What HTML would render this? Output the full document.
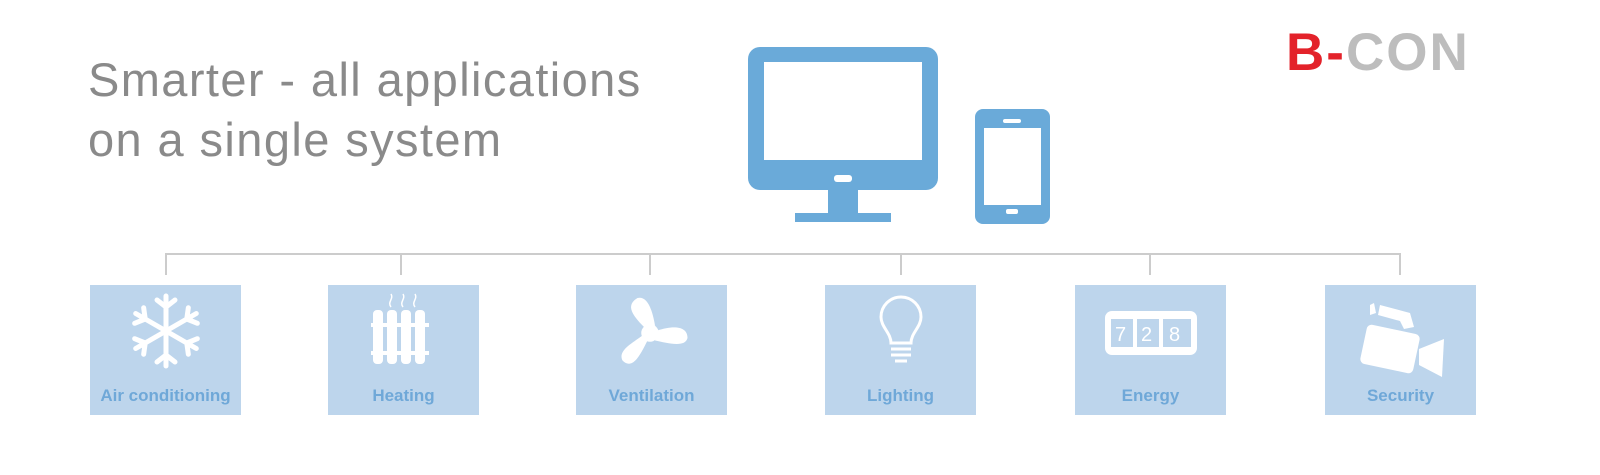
<!DOCTYPE html>
<html><head><style>
body{margin:0;width:1600px;height:475px;background:#fff;position:relative;overflow:hidden;font-family:"Liberation Sans",sans-serif}
.t{position:absolute;left:88px;color:#8a8a8a;font-size:47px;font-weight:300;letter-spacing:1.4px}
.box{position:absolute;top:285px;width:151px;height:130px;background:#bdd5ec}
.lbl{position:absolute;left:0;right:0;top:101px;text-align:center;color:#6fa8d8;font-weight:bold;font-size:17px}
.ic{position:absolute;left:0;top:0}
</style></head><body>
<div class="t" style="top:52px">Smarter - all applications</div>
<div class="t" style="top:112px">on a single system</div>
<div style="position:absolute;left:1286px;top:22px;font-size:53px;font-weight:bold;letter-spacing:2px;color:#bdbdbd"><span style="color:#e3222a">B-</span>CON</div>
<svg width="1600" height="475" style="position:absolute;left:0;top:0">
<rect x="748" y="47" width="190" height="143" rx="12" fill="#6aaad9"/>
<rect x="764" y="62" width="158" height="98" fill="#fff"/>
<rect x="834" y="175" width="18" height="7" rx="3" fill="#fff"/>
<rect x="828" y="189" width="30" height="25" fill="#6aaad9"/>
<rect x="795" y="213" width="96" height="9" fill="#6aaad9"/>
<rect x="975" y="109" width="75" height="115" rx="8" fill="#6aaad9"/>
<rect x="984" y="128" width="57" height="77" fill="#fff"/>
<rect x="1003" y="119" width="18" height="4" rx="2" fill="#fff"/>
<rect x="1006" y="209" width="12" height="5" rx="2" fill="#fff"/>
<g stroke="#ccc" stroke-width="2" fill="none">
<path d="M166 275V254H1400V275"/>
<path d="M401 254V275M650 254V275M901 254V275M1150 254V275"/>
</g>
</svg>
<div class="box" style="left:90px"><svg class="ic" width="151" height="100"><g stroke="#fff" stroke-width="5" stroke-linecap="round" fill="none" transform="translate(76,46)"><g id="a"><path d="M0-35V35M0-24L-9-31M0-24L9-31M0 24L-9 31M0 24L9 31"/></g><use href="#a" transform="rotate(60)"/><use href="#a" transform="rotate(-60)"/></g></svg><div class="lbl">Air conditioning</div></div>
<div class="box" style="left:328px"><svg class="ic" width="151" height="100"><g fill="#fff"><rect x="45" y="25" width="10" height="54" rx="4"/><rect x="59" y="25" width="10" height="54" rx="4"/><rect x="73" y="25" width="10" height="54" rx="4"/><rect x="87" y="25" width="10" height="54" rx="4"/><rect x="43" y="38" width="58" height="4"/><rect x="43" y="66" width="58" height="4"/></g><g stroke="#fff" stroke-width="1.5" fill="none"><path d="M63 22c-4-5 3-8 0-13M75 22c-4-5 3-8 0-13M87 22c-4-5 3-8 0-13"/></g></svg><div class="lbl">Heating</div></div>
<div class="box" style="left:576px"><svg class="ic" width="151" height="100"><g fill="#fff" transform="translate(74,48) scale(1.25)"><circle r="7"/><path d="M-4-4C-14-14-20-22-10-28C-2-30 2-18 4-6Z"/><path d="M6-2C18-6 30-6 30 4C28 12 14 8 4 6Z"/><path d="M-2 6C-8 18-14 30-22 22C-26 14-14 8-6 2Z"/></g></svg><div class="lbl">Ventilation</div></div>
<div class="box" style="left:825px"><svg class="ic" width="151" height="100"><g stroke="#fff" stroke-width="3" fill="none"><path d="M66 58C66 48 56 42 56 32a20 20 0 0 1 40 0c0 10-10 16-10 26Z"/><path d="M66 64H86M66 70H86M70 76H82"/></g></svg><div class="lbl">Lighting</div></div>
<div class="box" style="left:1075px"><svg class="ic" width="151" height="100"><rect x="30" y="26" width="92" height="44" rx="7" fill="#fff"/><g fill="#bdd5ec"><rect x="36" y="34" width="22" height="28"/><rect x="62" y="34" width="22" height="28"/><rect x="88" y="34" width="28" height="28"/></g><g fill="#fff" font-family="Liberation Sans" font-size="20"><text x="40" y="56">7</text><text x="66" y="56">2</text><text x="94" y="56">8</text></g></svg><div class="lbl">Energy</div></div>
<div class="box" style="left:1325px"><svg class="ic" width="151" height="100"><g fill="#fff"><path d="M45 20l4-2 2 10-6 2Z"/><path d="M55 20l30 8 4 14-10 2-4-8-22-6Z"/><rect x="38" y="44" width="54" height="40" rx="5" transform="rotate(12 65 64)"/><path d="M94 64l25-10-2 38-23-12Z"/></g></svg><div class="lbl">Security</div></div>
</body></html>
